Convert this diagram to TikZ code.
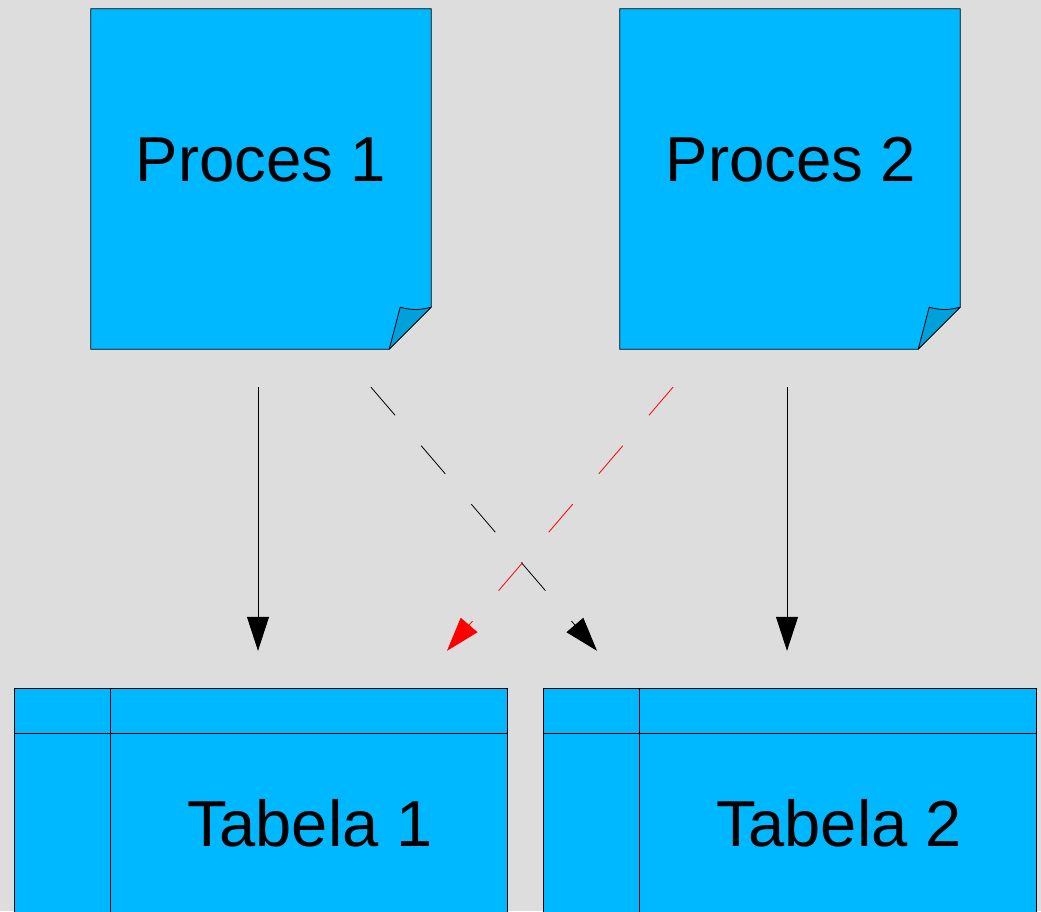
\documentclass[tikz,border=0pt]{standalone}
\usepackage{fontspec}
\setmainfont{Liberation Sans}
\usetikzlibrary{arrows.meta}
\definecolor{bg}{HTML}{DDDDDD}
\definecolor{boxblue}{HTML}{00B8FF}
\definecolor{foldblue}{HTML}{00A0DA}
\tikzset{
  x=1pt, y=-1pt,
  big text/.style={font=\fontsize{63.5}{63.5}\selectfont, inner sep=0pt, anchor=base},
  table text/.style={big text, font=\fontsize{65}{65}\selectfont},
  outline/.style={draw=black, line width=0.8pt, line join=miter},
  procbox/.style={inner sep=0pt, minimum width=340pt, minimum height=340pt},
  tablebox/.style={inner sep=0pt, minimum width=492pt, minimum height=240pt},
  arr/.style={line width=0.8pt, -{Triangle[length=34pt,width=22pt]}},
  dashedarr/.style={arr, dash pattern=on 37pt off 40pt},
}
\begin{document}
\begin{tikzpicture}
\useasboundingbox (0,0) rectangle (1041,911);
\fill[bg] (0,0) rectangle (1041,911);
\clip (0,0) rectangle (1041,911);

% anchor nodes for the two processes and the two tables
\node[procbox] (p1) at (261,179) {};
\node[procbox] (p2) at (790,179) {};
\node[tablebox] (t1) at (261,809) {};
\node[tablebox] (t2) at (790,809) {};

% note shapes with a curled bottom-right corner
\foreach \n in {p1,p2} {
  \filldraw[fill=boxblue, outline]
    (\n.north west) -- (\n.north east) -- ([yshift=42pt]\n.south east)
    -- ([xshift=-42pt]\n.south east) -- (\n.south west) -- cycle;
  \filldraw[fill=foldblue, outline, line join=round]
    ([xshift=-42pt]\n.south east) -- ([xshift=-31pt,yshift=42pt]\n.south east)
    .. controls ([xshift=-16pt,yshift=38pt]\n.south east) and ([xshift=-9pt,yshift=40pt]\n.south east)
    .. ([yshift=42pt]\n.south east) -- cycle;
}

% tables with a header row and a key column
\foreach \n in {t1,t2} {
  \filldraw[fill=boxblue, outline] (\n.north west) rectangle (\n.south east);
  \draw[outline] ([yshift=-45pt]\n.north west) -- ([yshift=-45pt]\n.north east);
  \draw[outline] ([xshift=96pt]\n.north west) -- ([xshift=96pt]\n.south west);
}

% labels
\node[big text] (l1) at (261,181) {Proces 1};
\node[big text] (l2) at (791,181) {Proces 2};
\node[table text] (l3) at (310,846) {Tabela 1};
\node[table text] (l4) at (839,846) {Tabela 2};

% straight connectors
\draw[arr, shorten <=38pt, shorten >=38pt] ([xshift=-3pt]p1.south) -- ([xshift=-3pt]t1.north);
\draw[arr, shorten <=38pt, shorten >=38pt] ([xshift=-3pt]p2.south) -- ([xshift=-3pt]t2.north);

% crossing dashed connectors
\coordinate (a1) at ([xshift=110pt,yshift=-38pt]p1.south);
\coordinate (b1) at ([xshift=-193pt,yshift=38pt]t2.north);
\coordinate (a2) at ([xshift=-117pt,yshift=-38pt]p2.south);
\coordinate (b2) at ([xshift=186pt,yshift=38pt]t1.north);
\draw[dashedarr] (a1) -- (b1);
\draw[dashedarr, red] (a2) -- (b2);
\end{tikzpicture}
\end{document}
